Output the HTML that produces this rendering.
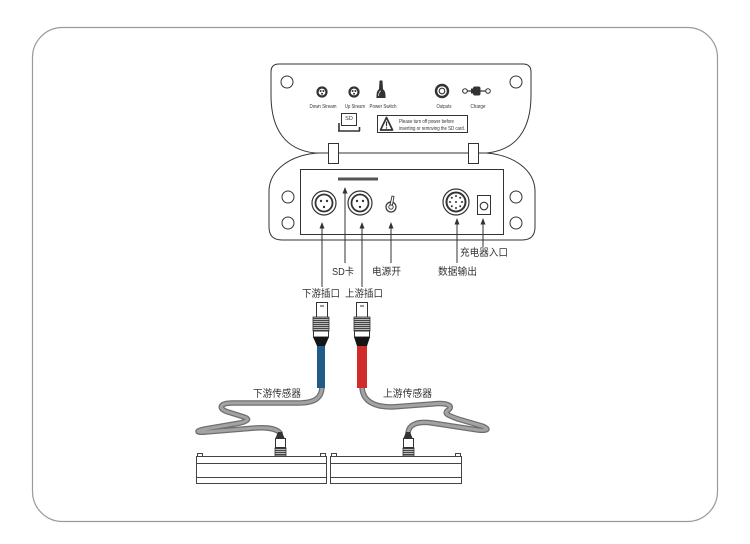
<!DOCTYPE html>
<html><head><meta charset="utf-8">
<style>
html,body{margin:0;padding:0;background:#fff;width:750px;height:544px;overflow:hidden}
svg{display:block}
.cn{font-family:"Liberation Sans","Noto Sans CJK SC",sans-serif;font-size:10px;fill:#333}
.en{font-family:"Liberation Sans",sans-serif;font-size:5.5px;fill:#333}
</style></head>
<body>
<svg width="750" height="544" viewBox="0 0 750 544" xmlns="http://www.w3.org/2000/svg">
<defs>
  <pattern id="kn" width="4" height="2" patternUnits="userSpaceOnUse">
    <rect x="0" y="0" width="4" height="1" fill="#444"/>
    <rect x="0" y="1" width="4" height="1" fill="#bbb"/>
  </pattern>
</defs>

<!-- outer frame -->
<rect x="32.5" y="27.5" width="685" height="494" rx="30" fill="none" stroke="#9a9a9a" stroke-width="1.2"/>

<!-- body -->
<g fill="none" stroke="#333" stroke-width="1">
  <path d="M318,153 C290,155 270,170 269,190 V227 Q269,240 282,240 H522 Q535,240 535,227 V190 C534,170 514,155 486,153" fill="#fff"/>
  <rect x="300.5" y="169.5" width="203" height="65"/>
  <circle cx="288" cy="197" r="6"/>
  <circle cx="288" cy="223" r="6"/>
  <circle cx="516" cy="197" r="6"/>
  <circle cx="516" cy="223" r="6"/>
</g>

<!-- lid -->
<g fill="none" stroke="#333" stroke-width="1">
  <path d="M279,64 H523 Q531,64 531,72 V95 C531,130 516,150 487,153 H315 C286,150 271,130 271,95 V72 Q271,64 279,64 Z" fill="#fff"/>
  <circle cx="287" cy="82" r="6"/>
  <circle cx="516" cy="82" r="6"/>
</g>

<!-- hinges -->
<rect x="328.5" y="143.5" width="10" height="20" fill="#fff" stroke="#333" stroke-width="1"/>
<rect x="468.5" y="143.5" width="10" height="20" fill="#fff" stroke="#333" stroke-width="1"/>

<!-- lid icons -->
<g>
  <circle cx="322" cy="92" r="5.6" fill="#333"/>
  <circle cx="322" cy="92" r="3.4" fill="#fff"/>
  <circle cx="320.6" cy="91" r="1" fill="#333"/>
  <circle cx="323.4" cy="91" r="1" fill="#333"/>
  <circle cx="322" cy="93.7" r="1" fill="#333"/>

  <circle cx="354" cy="92" r="5.6" fill="#333"/>
  <circle cx="354" cy="92" r="3.4" fill="#fff"/>
  <circle cx="352.6" cy="91" r="1" fill="#333"/>
  <circle cx="355.4" cy="91" r="1" fill="#333"/>
  <circle cx="354" cy="93.7" r="1" fill="#333"/>

  <path d="M379.5,81 Q381,79.5 382.5,81 L383,89 L379,89 Z" fill="#333"/>
  <path d="M376.5,98 Q376,89 381,88.5 Q386,89 385.5,98 Z" fill="#333"/>
  <path d="M378.5,96 Q379,91 381,91" stroke="#fff" stroke-width="0.7" fill="none"/>

  <circle cx="442" cy="91" r="7.2" fill="#333"/>
  <circle cx="442" cy="91" r="4.8" fill="#fff"/>
  <circle cx="442" cy="91" r="2.8" fill="none" stroke="#333" stroke-width="1.1"/>

  <line x1="462" y1="91" x2="490" y2="91" stroke="#333" stroke-width="1.3"/>
  <circle cx="465" cy="91" r="2.3" fill="#fff" stroke="#333" stroke-width="1"/>
  <circle cx="488" cy="91" r="2.3" fill="#fff" stroke="#333" stroke-width="1"/>
  <rect x="473" y="86.5" width="7.5" height="9" rx="2" fill="#333"/>
  <rect x="471" y="88.5" width="3" height="5" fill="#333"/>

  <text class="en" x="323" y="108" text-anchor="middle" textLength="27" lengthAdjust="spacingAndGlyphs">Down Stream</text>
  <text class="en" x="355" y="108" text-anchor="middle" textLength="20" lengthAdjust="spacingAndGlyphs">Up Stream</text>
  <text class="en" x="383" y="108" text-anchor="middle" textLength="27" lengthAdjust="spacingAndGlyphs">Power Switch</text>
  <text class="en" x="444" y="108" text-anchor="middle" textLength="15" lengthAdjust="spacingAndGlyphs">Outputs</text>
  <text class="en" x="478" y="108" text-anchor="middle" textLength="15" lengthAdjust="spacingAndGlyphs">Charge</text>

  <!-- SD icon -->
  <rect x="341.5" y="113.5" width="15" height="12" fill="#fff" stroke="#333" stroke-width="1"/>
  <text class="en" x="349" y="120" text-anchor="middle" font-size="4.5">SD</text>
  <path d="M338,131 H360 M339,123 V131 M359.5,127 V131" stroke="#333" stroke-width="1.6" fill="none"/>

  <!-- warning -->
  <rect x="377.5" y="115.5" width="90" height="17" fill="#fff" stroke="#333" stroke-width="1"/>
  <path d="M386.5,117.5 L392.5,130 L380.5,130 Z" fill="none" stroke="#333" stroke-width="1.7" stroke-linejoin="round"/>
  <line x1="386.5" y1="121.5" x2="386.5" y2="126.3" stroke="#333" stroke-width="1.2"/>
  <circle cx="386.5" cy="128" r="0.7" fill="#333"/>
  <text class="en" x="399" y="123" textLength="55" lengthAdjust="spacingAndGlyphs">Please turn off power before</text>
  <text class="en" x="399" y="130" textLength="66" lengthAdjust="spacingAndGlyphs">inserting or removing the SD card.</text>
</g>

<!-- body components -->
<g>
  <rect x="338" y="177.5" width="40" height="3" fill="#555"/>

  <circle cx="324" cy="203" r="12" fill="#fff" stroke="#333" stroke-width="1.2"/>
  <circle cx="324" cy="203" r="8.5" fill="#fff" stroke="#333" stroke-width="1.8"/>
  <circle cx="321" cy="201" r="1.2" fill="#333"/>
  <circle cx="327" cy="201" r="1.2" fill="#333"/>
  <circle cx="324" cy="207" r="1.2" fill="#333"/>

  <circle cx="360" cy="203" r="12" fill="#fff" stroke="#333" stroke-width="1.2"/>
  <circle cx="360" cy="203" r="8.5" fill="#fff" stroke="#333" stroke-width="1.8"/>
  <circle cx="357" cy="201" r="1.2" fill="#333"/>
  <circle cx="363" cy="201" r="1.2" fill="#333"/>
  <circle cx="360" cy="207" r="1.2" fill="#333"/>

  <circle cx="391" cy="207" r="5" fill="#fff" stroke="#333" stroke-width="1.2"/>
  <circle cx="391" cy="207" r="2.2" fill="none" stroke="#333" stroke-width="0.9"/>
  <path d="M390,205 L392,196 L394,196.5 L392.5,205 Z" fill="#fff" stroke="#333" stroke-width="0.9"/>

  <circle cx="456" cy="202" r="13" fill="#fff" stroke="#333" stroke-width="1.2"/>
  <circle cx="456" cy="202" r="9.5" fill="#fff" stroke="#333" stroke-width="2"/>
  <g fill="#333">
    <circle cx="456" cy="196" r="1"/>
    <circle cx="460.2" cy="197.8" r="1"/>
    <circle cx="462" cy="202" r="1"/>
    <circle cx="460.2" cy="206.2" r="1"/>
    <circle cx="456" cy="208" r="1"/>
    <circle cx="451.8" cy="206.2" r="1"/>
    <circle cx="450" cy="202" r="1"/>
    <circle cx="451.8" cy="197.8" r="1"/>
    <circle cx="456" cy="202" r="1"/>
  </g>

  <rect x="477.5" y="195.5" width="13" height="19" fill="#fff" stroke="#333" stroke-width="1"/>
  <circle cx="484" cy="206" r="3.8" fill="#fff" stroke="#333" stroke-width="1.1"/>
</g>

<!-- callout lines with arrows -->
<g stroke="#333" stroke-width="1">
  <line x1="322" y1="226" x2="322" y2="287"/>
  <line x1="345" y1="191" x2="345" y2="263"/>
  <line x1="362" y1="226" x2="362" y2="287"/>
  <line x1="391" y1="226" x2="391" y2="263"/>
  <line x1="457" y1="222" x2="457" y2="263"/>
  <line x1="483" y1="222" x2="483" y2="247"/>
</g>
<g fill="#333">
  <polygon points="322,222 319.5,228.5 324.5,228.5"/>
  <polygon points="345,187 342.5,193.5 347.5,193.5"/>
  <polygon points="362,222 359.5,228.5 364.5,228.5"/>
  <polygon points="391,222 388.5,228.5 393.5,228.5"/>
  <polygon points="457,218 454.5,224.5 459.5,224.5"/>
  <polygon points="483,218 480.5,224.5 485.5,224.5"/>
</g>

<!-- labels -->
<text class="cn" x="460" y="256" textLength="48" lengthAdjust="spacingAndGlyphs">充电器入口</text>
<text class="cn" x="438" y="275" textLength="39" lengthAdjust="spacingAndGlyphs">数据输出</text>
<text class="cn" x="372" y="275" textLength="29" lengthAdjust="spacingAndGlyphs">电源开</text>
<text class="cn" x="332" y="275" textLength="22" lengthAdjust="spacingAndGlyphs">SD卡</text>
<text class="cn" x="302" y="297" textLength="38" lengthAdjust="spacingAndGlyphs">下游插口</text>
<text class="cn" x="345" y="297" textLength="38" lengthAdjust="spacingAndGlyphs">上游插口</text>
<text class="cn" x="253" y="397" textLength="48" lengthAdjust="spacingAndGlyphs">下游传感器</text>
<text class="cn" x="383" y="397" textLength="49" lengthAdjust="spacingAndGlyphs">上游传感器</text>

<!-- cables (gray) -->
<g fill="none" stroke-linecap="round" stroke-linejoin="round">
  <path d="M322,386 C322,398 315,403 298,403 L232,403 C219,403 218,409 228,412 L244,417 C250,419 248,421 240,423 L205,429 C195,431 196,433 206,432 L255,428 C268,427 277,429 280,433" stroke="#6f6f6f" stroke-width="5.5"/>
  <path d="M322,386 C322,398 315,403 298,403 L232,403 C219,403 218,409 228,412 L244,417 C250,419 248,421 240,423 L205,429 C195,431 196,433 206,432 L255,428 C268,427 277,429 280,433" stroke="#a3a3a3" stroke-width="3"/>
  <path d="M362,386 C362,400 372,407 392,407 L432,404 C450,402 454,407 447,411 C444,414 450,416 458,419 L482,426 C490,429 488,431 478,430 L432,423 C418,421 409,424 408,433" stroke="#6f6f6f" stroke-width="5.5"/>
  <path d="M362,386 C362,400 372,407 392,407 L432,404 C450,402 454,407 447,411 C444,414 450,416 458,419 L482,426 C490,429 488,431 478,430 L432,423 C418,421 409,424 408,433" stroke="#a3a3a3" stroke-width="3"/>
</g>

<!-- downstream plug -->
<g>
  <rect x="317" y="345" width="8" height="43" fill="#1f5c88"/>
  <rect x="316.5" y="302.5" width="11" height="15" fill="#fff" stroke="#333" stroke-width="1"/>
  <line x1="320" y1="306" x2="324" y2="306" stroke="#333" stroke-width="1"/>
  <rect x="313" y="317" width="16" height="14" fill="url(#kn)" stroke="#333" stroke-width="0.8"/>
  <rect x="313.5" y="331" width="15" height="6" fill="#fff" stroke="#333" stroke-width="1"/>
  <polygon points="313,337 329,337 325,346 317,346" fill="#151515"/>
</g>
<!-- upstream plug -->
<g>
  <rect x="357" y="345" width="10" height="43" fill="#d22b2b"/>
  <rect x="356.5" y="302.5" width="11" height="15" fill="#fff" stroke="#333" stroke-width="1"/>
  <line x1="360" y1="306" x2="364" y2="306" stroke="#333" stroke-width="1"/>
  <rect x="354" y="317" width="16" height="14" fill="url(#kn)" stroke="#333" stroke-width="0.8"/>
  <rect x="354.5" y="331" width="15" height="6" fill="#fff" stroke="#333" stroke-width="1"/>
  <polygon points="354,337 370,337 367,346 357,346" fill="#151515"/>
</g>

<!-- sensor connectors -->
<g>
  <polygon points="278,432 282,432 284.5,438 275.5,438" fill="#333"/>
  <rect x="275.5" y="438.5" width="10" height="9" fill="#fff" stroke="#333" stroke-width="1"/>
  <rect x="275" y="448" width="11" height="8" fill="url(#kn)" stroke="#333" stroke-width="0.8"/>

  <polygon points="406,432 410,432 412.5,438 403.5,438" fill="#333"/>
  <rect x="403.5" y="438.5" width="10" height="9" fill="#fff" stroke="#333" stroke-width="1"/>
  <rect x="403" y="448" width="11" height="8" fill="url(#kn)" stroke="#333" stroke-width="0.8"/>
</g>

<!-- sensor bars -->
<g fill="none" stroke="#444" stroke-width="1">
  <rect x="196.5" y="456.5" width="130" height="27" fill="#fff"/>
  <line x1="196.5" y1="463.5" x2="326.5" y2="463.5"/>
  <line x1="196.5" y1="477.5" x2="326.5" y2="477.5"/>
  <rect x="197.5" y="453.5" width="5" height="3" fill="#fff"/>
  <rect x="320.5" y="453.5" width="5" height="3" fill="#fff"/>

  <rect x="330.5" y="456.5" width="131" height="27" fill="#fff"/>
  <line x1="330.5" y1="463.5" x2="461.5" y2="463.5"/>
  <line x1="330.5" y1="477.5" x2="461.5" y2="477.5"/>
  <rect x="331.5" y="453.5" width="5" height="3" fill="#fff"/>
  <rect x="455.5" y="453.5" width="5" height="3" fill="#fff"/>
</g>
</svg>
</body></html>
